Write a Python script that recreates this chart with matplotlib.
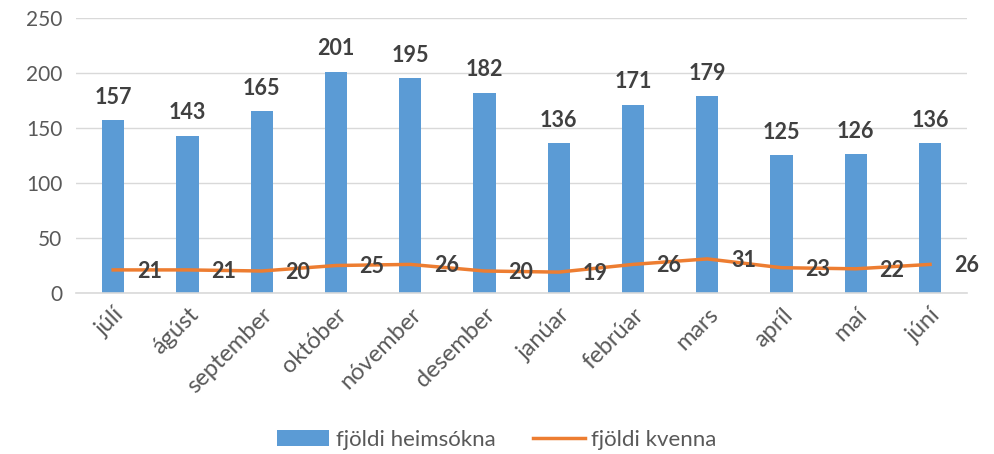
import matplotlib
matplotlib.use("Agg")
import matplotlib.pyplot as plt
import numpy as np

# gögn lesin af myndinni
manudir = ["júlí", "ágúst", "september", "október", "nóvember", "desember",
           "janúar", "febrúar", "mars", "apríl", "maí", "júní"]
heimsoknir = [157, 143, 165, 201, 195, 182, 136, 171, 179, 125, 126, 136]
kvennur = [21, 21, 20, 25, 26, 20, 19, 26, 31, 23, 22, 26]

plt.rcParams['font.family'] = ['Lato', 'DejaVu Sans']

fig = plt.figure(figsize=(9.94, 4.54), dpi=100)
ax = fig.add_axes([0.0765, 0.3546, 0.8965, 0.6058])

x = np.arange(len(manudir))
b = ax.bar(x, heimsoknir, width=0.3, color="#5b9bd5", label="fjöldi heimsókna", zorder=2)
l, = ax.plot(x, kvennur, color="#ed7d31", lw=2.5, label="fjöldi kvenna", zorder=3)

for xi, v in zip(x, heimsoknir):
    ax.annotate(str(v), (xi, v), xytext=(0, 9), textcoords="offset points",
                ha="center", va="bottom", fontsize=15.5, fontweight="bold", color="#404040")
for xi, v in zip(x, kvennur):
    ax.annotate(str(v), (xi, v), xytext=(26, -1), textcoords="offset points",
                ha="center", va="center", fontsize=15.5, fontweight="bold", color="#404040")

ax.set_xlim(-0.5, len(manudir) - 0.5)
ax.set_ylim(0, 250)
ax.set_yticks(range(0, 251, 50))
ax.set_xticks(x)
ax.set_xticklabels(manudir, rotation=45, ha="right", rotation_mode="anchor")
ax.tick_params(axis="y", length=0, labelsize=15, labelcolor="#595959", pad=10)
ax.tick_params(axis="x", length=0, labelsize=17, labelcolor="#595959", pad=8)
ax.grid(axis="y", color="#d9d9d9", lw=1, zorder=0)
for s in ["left", "right", "top"]:
    ax.spines[s].set_visible(False)
ax.spines["bottom"].set_color("#d9d9d9")
ax.spines["bottom"].set_linewidth(1.2)

fig.legend([b, l], ["fjöldi heimsókna", "fjöldi kvenna"], loc="lower center",
           bbox_to_anchor=(0.5, -0.035), ncol=2, frameon=False,
           fontsize=16, labelcolor="#595959", handlelength=2.35, columnspacing=1.65,
           handleheight=0.75, handletextpad=0.3)

fig.savefig("out.png", dpi=100)
